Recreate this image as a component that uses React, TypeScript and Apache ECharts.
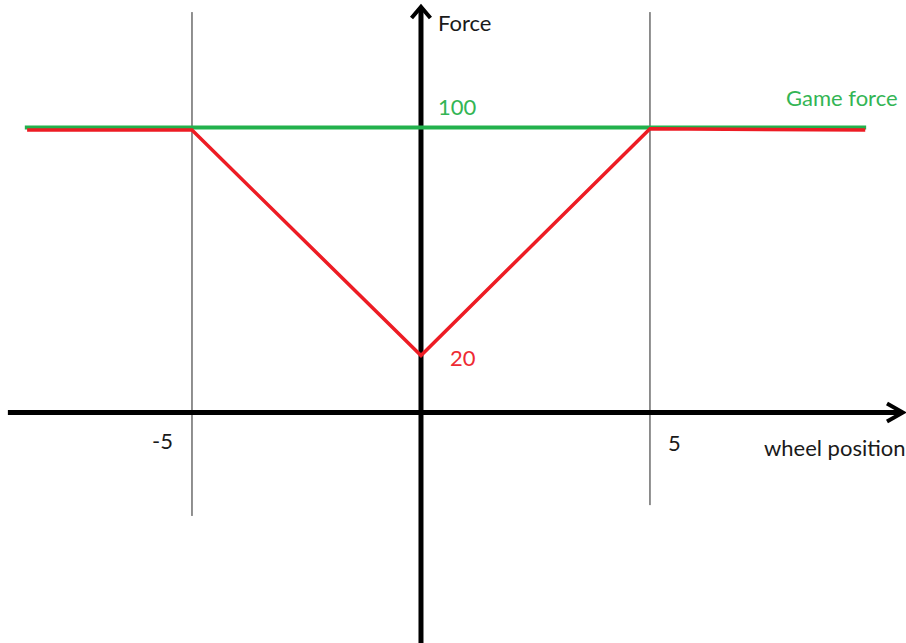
import React, { useEffect, useRef } from "react";
import * as echarts from "echarts";

// Data (chart units: x = wheel position, y = force)
const xRange = [-9.192, 10.59];
const yRange = [-80.88, 144.74];

const gameForce = [
  [-8.65, 100],
  [9.72, 100],
];
const wheelForce = [
  [-8.6, 99.1],
  [-5, 99.1],
  [0, 20],
  [5, 99.6],
  [9.7, 99.1],
];
const xAxisLine = [
  [-9.02, 0],
  [10.45, 0],
];
const xArrow = [
  [10.175, 3.16],
  [10.524, 0],
  [10.175, -3.16],
];
const yAxisLine = [
  [0, -80.9],
  [0, 141.5],
];
const yArrow = [
  [-0.207, 138.4],
  [0, 142.3],
  [0.207, 138.4],
];
const leftBound = [
  [-5, 140.5],
  [-5, -36.3],
];
const rightBound = [
  [5, 140.5],
  [5, -32.5],
];

const labels = [
  { text: "Force", x: 438, y: 22, color: "#1a1a1a" },
  { text: "100", x: 438, y: 106, color: "#33b554" },
  { text: "Game force", x: 786, y: 97, color: "#33b554" },
  { text: "20", x: 450, y: 357, color: "#ee2a33" },
  { text: "-5", x: 152, y: 440, color: "#1a1a1a" },
  { text: "5", x: 668, y: 442, color: "#1a1a1a" },
  { text: "wheel position", x: 764, y: 447, color: "#1a1a1a" },
];

const FONT = "22px Lato, 'Open Sans', sans-serif";

export default function App() {
  const ref = useRef<HTMLDivElement>(null);
  useEffect(() => {
    if (!ref.current) return;
    const chart = echarts.init(ref.current, undefined, { renderer: "svg" });
    const lineSeries = (data: number[][], color: string, width: number, z = 2) => ({
      type: "line",
      data,
      symbol: "none",
      silent: true,
      z,
      lineStyle: { color, width, cap: "butt", join: "miter" },
    });
    chart.setOption({
      animation: false,
      backgroundColor: "#ffffff",
      grid: { left: 0, right: 0, top: 0, bottom: 0 },
      xAxis: {
        type: "value",
        min: xRange[0],
        max: xRange[1],
        show: false,
      },
      yAxis: {
        type: "value",
        min: yRange[0],
        max: yRange[1],
        show: false,
      },
      series: [
        lineSeries(leftBound, "#222222", 1, 1),
        lineSeries(rightBound, "#222222", 1, 1),
        lineSeries(xAxisLine, "#000000", 5, 2),
        lineSeries(xArrow, "#000000", 4, 2),
        lineSeries(yAxisLine, "#000000", 5, 2),
        lineSeries(yArrow, "#000000", 4, 2),
        lineSeries(gameForce, "#22b14c", 4, 3),
        lineSeries(wheelForce, "#ed1c24", 3.5, 4),
      ],
      graphic: labels.map((l) => ({
        type: "text",
        x: l.x,
        y: l.y,
        silent: true,
        style: {
          text: l.text,
          fill: l.color,
          font: FONT,
          align: "left",
          verticalAlign: "middle",
        },
      })),
    });
    return () => chart.dispose();
  }, []);
  return (
    <div
      ref={ref}
      style={{ position: "fixed", left: 0, top: 0, width: 906, height: 643, background: "#fff" }}
    />
  );
}
